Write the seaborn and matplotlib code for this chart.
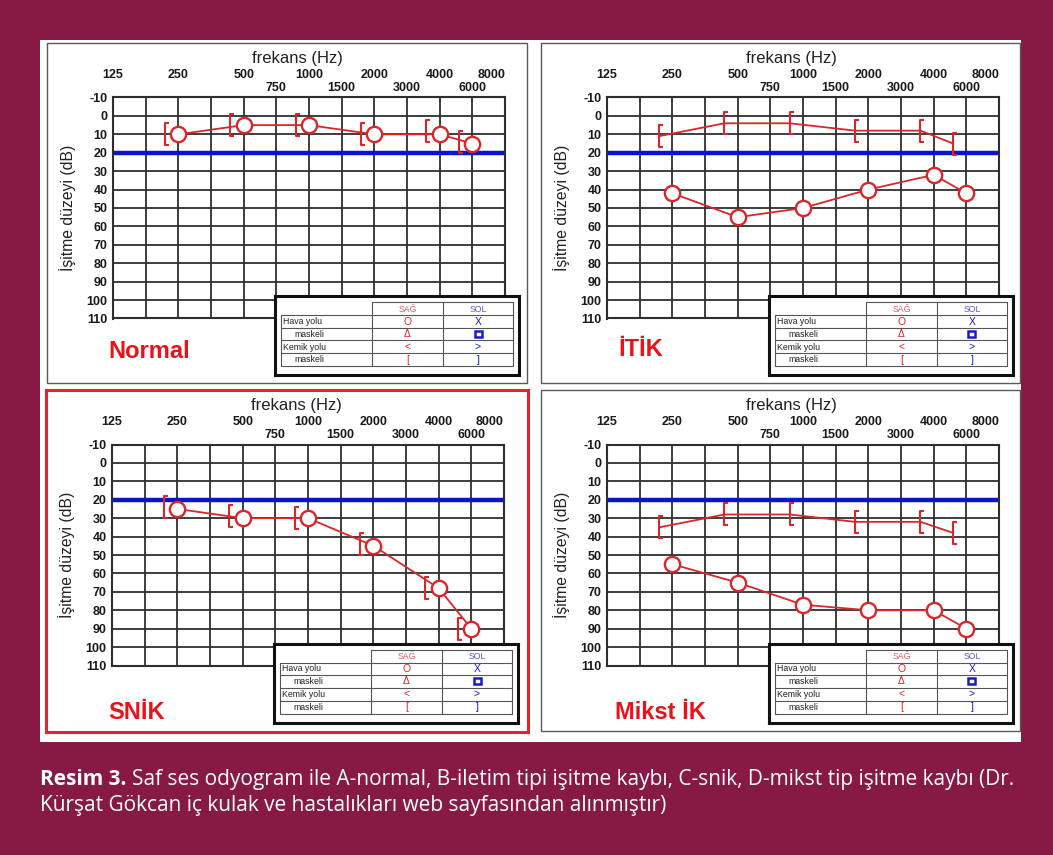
import numpy as np
import matplotlib
matplotlib.use("Agg")
import matplotlib.pyplot as plt
import matplotlib.transforms as mtransforms
from matplotlib.patches import Rectangle
from matplotlib.path import Path
import seaborn as sns

# frequencies tested (Hz) and thresholds (dB HL)
freqs = [250, 500, 1000, 2000, 4000, 6000]
air_normal = [10, 5, 5, 10, 10, 15]
bone_normal = [10, 5, 5, 10, 8, 14]
air_itik = [42, 55, 50, 40, 32, 42]
bone_itik = [11, 4, 4, 8, 8, 15]
air_snik = [25, 30, 30, 45, 68, 90]
bone_snik = [24, 29, 30, 44, 68, 90]
air_mikst = [55, 65, 77, 80, 80, 90]
bone_mikst = [35, 28, 28, 32, 32, 38]

panel_titles = ["Normal", "İTİK", "SNİK", "Mikst İK"]
air_series = [air_normal, air_itik, air_snik, air_mikst]
bone_series = [bone_normal, bone_itik, bone_snik, bone_mikst]
bone_joined = [False, True, False, True]

normal_limit = 20
top_freqs = [125, 250, 500, 1000, 2000, 4000, 8000]
mid_freqs = [750, 1500, 3000, 6000]
db_ticks = list(range(-10, 111, 10))

# audiogram frequency axis: octaves two columns apart, 750/1500/3000/6000 in between
audio_freqs = [125, 250, 500, 750, 1000, 1500, 2000, 3000, 4000, 6000, 8000]
audio_cols = [0, 2, 4, 5, 6, 7, 8, 9, 10, 11, 12]

legend_rows = ["Hava yolu", "maskeli", "Kemik yolu", "maskeli"]
legend_sag = ["O", "Δ", "<", "["]
legend_sol = ["X", "", ">", "]"]

caption_bold = "Resim 3."
caption_1 = "Saf ses odyogram ile A-normal, B-iletim tipi işitme kaybı, C-snik, D-mikst tip işitme kaybı (Dr."
caption_2 = "Kürşat Gökcan iç kulak ve hastalıkları web sayfasından alınmıştır)"

sns.set_style("white")
plt.rcParams["font.family"] = ["Liberation Sans", "DejaVu Sans"]

W, H = 1053, 855
MAROON = "#871A45"
RED = "#D9262B"
LABEL_RED = "#EA1219"
BLUE = "#0A14C8"
GRID = "#2E2E2E"


def scale_fwd(f):
    f = np.clip(np.asarray(f, dtype=float), 1, None)
    return np.interp(np.log2(f), np.log2(audio_freqs), audio_cols)


def scale_inv(c):
    return 2 ** np.interp(c, audio_cols, np.log2(audio_freqs))


fig = plt.figure(figsize=(W / 100, H / 100), dpi=100)
fig.patch.set_facecolor(MAROON)


def fx(px):
    return px / W


def fy(py):
    return 1 - py / H


def frame(x0, y0, x1, y1, **kw):
    fig.add_artist(Rectangle((fx(x0), fy(y1)), (x1 - x0) / W, (y1 - y0) / H,
                             transform=fig.transFigure, **kw))


frame(40, 40, 1021, 742, facecolor="white", edgecolor="none", zorder=-2)

BRACKET = Path([(0.38, 1), (0, 1), (0, -1), (0.38, -1)],
               [Path.MOVETO, Path.LINETO, Path.LINETO, Path.LINETO])

panels = [(47, 43, 527, 383), (541, 43, 1020, 383), (46, 390, 528, 732), (541, 390, 1020, 731)]
borders = [("#5a5a5a", 1.0), ("#5a5a5a", 1.0), ("#E3242B", 2.2), ("#5a5a5a", 1.0)]
title_pos = [(61, 308), (77, 307), (62, 322), (74, 322)]

for i, (ox, oy, ox1, oy1) in enumerate(panels):
    ec, lw = borders[i]
    frame(ox, oy, ox1, oy1, facecolor="none", edgecolor=ec, linewidth=lw, zorder=-1)

    ax = fig.add_axes([fx(ox + 66), fy(oy + 275.5), 392 / W, 221 / H])
    ax.set_facecolor("white")
    ax.set_xscale("function", functions=(scale_fwd, scale_inv))

    for c in range(13):
        ax.axvline(scale_inv(c), color=GRID, lw=1.3, zorder=1)
    for d in db_ticks:
        ax.axhline(d, color=GRID, lw=1.3, zorder=1)
    ax.axhline(normal_limit, color=BLUE, lw=3.2, zorder=2)

    sns.lineplot(x=freqs, y=air_series[i], ax=ax, color=RED, lw=1.3,
                 marker="o", markersize=11, markerfacecolor="white",
                 markeredgecolor=RED, markeredgewidth=1.7, errorbar=None, zorder=5)
    shift = mtransforms.offset_copy(ax.transData, fig=fig, x=-9.5, y=0, units="points")
    sns.lineplot(x=freqs, y=bone_series[i], ax=ax, color=RED, lw=1.3,
                 linestyle="-" if bone_joined[i] else "none",
                 marker=BRACKET, markersize=16, markerfacecolor="none",
                 markeredgecolor=RED, markeredgewidth=1.5, errorbar=None,
                 transform=shift, zorder=5)

    ax.set_xlim(125, 8000)
    ax.set_ylim(110, -10)
    ax.xaxis.tick_top()
    ax.set_xticks(top_freqs)
    ax.set_xticklabels([str(f) for f in top_freqs])
    ax.set_xticks(mid_freqs, minor=True)
    ax.set_xticklabels([str(f) for f in mid_freqs], minor=True)
    ax.tick_params(axis="x", which="major", length=0, pad=12, labelsize=9)
    ax.tick_params(axis="x", which="minor", length=0, pad=2.5, labelsize=9)
    ax.set_yticks(db_ticks)
    ax.set_yticklabels([str(d) for d in db_ticks])
    ax.tick_params(axis="y", length=0, pad=4, labelsize=9)
    for lbl in ax.get_xticklabels(which="both") + ax.get_yticklabels():
        lbl.set_fontweight("bold")
        lbl.set_color("#1a1a1a")
    ax.get_xticklabels()[-1].set_ha("right")

    ax.set_xlabel("frekans (Hz)", fontsize=12, color="#222222")
    ax.xaxis.set_label_position("top")
    ax.xaxis.set_label_coords(0.47, 1.176)
    ax.xaxis.label.set_va("center")
    ax.set_ylabel("İşitme düzeyi (dB)", fontsize=11.3, color="#222222")
    ax.yaxis.set_label_coords(-0.115, 0.5)
    ax.yaxis.label.set_va("center")
    for s in ax.spines.values():
        s.set_color(GRID)
        s.set_linewidth(1.5)

    # symbol key in the lower right corner
    lax = fig.add_axes([fx(ox + 228), fy(oy + 332.5), 244 / W, 79 / H])
    lax.set_zorder(4)
    lax.set_facecolor("white")
    lax.set_xlim(0, 244)
    lax.set_ylim(79, 0)
    lax.set_xticks([])
    lax.set_yticks([])
    for s in lax.spines.values():
        s.set_color("#111111")
        s.set_linewidth(2.2)
    rows_y = [6, 19, 31.5, 44, 57, 70]
    cols_x = [6, 97, 168, 238]
    tc = "#555555"
    lax.plot([97, 238], [6, 6], color=tc, lw=0.8)
    for y in rows_y[1:]:
        lax.plot([6, 238], [y, y], color=tc, lw=0.8)
    lax.plot([6, 6], [19, 70], color=tc, lw=0.8)
    for x in cols_x[1:]:
        lax.plot([x, x], [6, 70], color=tc, lw=0.8)
    lax.text(132.5, 12.8, "SAĞ", color="#E55A6A", fontsize=6.3, ha="center", va="center")
    lax.text(203, 12.8, "SOL", color="#5A5AD8", fontsize=6.3, ha="center", va="center")
    for r, name in enumerate(legend_rows):
        yc = (rows_y[r + 1] + rows_y[r + 2]) / 2
        lax.text(8 if r % 2 == 0 else 19, yc, name, fontsize=6.3, color="#222222",
                 ha="left", va="center")
        lax.text(132.5, yc, legend_sag[r], fontsize=7.5, color=RED, ha="center", va="center")
        if legend_sol[r]:
            lax.text(203, yc, legend_sol[r], fontsize=7.5, color="#1A1AC8", ha="center", va="center")
        else:
            lax.add_patch(Rectangle((199.5, yc - 3.2), 7, 6.4, fill=False,
                                    edgecolor="#1A1AC8", linewidth=1.8))

    tx, ty = title_pos[i]
    fig.text(fx(ox + tx), fy(oy + ty), panel_titles[i], color=LABEL_RED, fontsize=17,
             fontweight="bold", ha="left", va="center")

cap_font = ["Open Sans", "DejaVu Sans"]
cap_size = 15
bold = fig.text(fx(40), fy(785), caption_bold, color="white", fontsize=cap_size,
                fontweight="bold", family=cap_font, va="baseline")
fig.canvas.draw()
bb = bold.get_window_extent(fig.canvas.get_renderer())
fig.text(bb.x1 / W + 5 / W, fy(785), caption_1, color="white", fontsize=cap_size,
         family=cap_font, va="baseline")
fig.text(fx(40), fy(811), caption_2, color="white", fontsize=cap_size,
         family=cap_font, va="baseline")

fig.savefig("out.png", dpi=100, facecolor=fig.get_facecolor())
